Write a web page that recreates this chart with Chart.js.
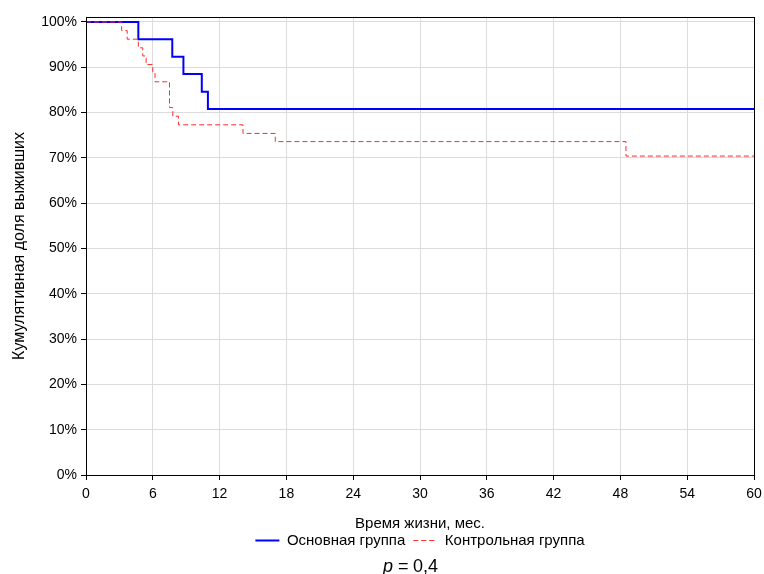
<!DOCTYPE html>
<html>
<head>
<meta charset="utf-8">
<script src="https://cdn.jsdelivr.net/npm/chart.js@4"></script>
<style>
  body { margin: 0; background: #fff; }
  canvas { display: block; }
</style>
</head>
<body>
<canvas id="kmChart" width="764" height="574"></canvas>
<script>
// Kaplan-Meier survival, months
var mainTimes = [0, 4.7, 7.75, 8.75, 10.4, 10.95, 60];
var mainSurv = [100, 96.2, 92.3, 88.5, 84.6, 80.8, 80.8];

var ctrlTimes = [0, 3.2, 3.7, 4.7, 5.1, 5.4, 6.0, 6.2, 7.5, 7.8, 8.3, 14.1, 17.0, 48.5, 60];
var ctrlSurv = [100, 98.1, 96.2, 94.3, 92.5, 90.6, 88.7, 86.8, 81.1, 79.2, 77.3, 75.4, 73.6, 70.4, 70.4];

var xTicks = [0, 6, 12, 18, 24, 30, 36, 42, 48, 54, 60];
var yTicks = [0, 10, 20, 30, 40, 50, 60, 70, 80, 90, 100];

var seriesNames = ['Основная группа', 'Контрольная группа'];
var pValue = '0,4';

function toPoints(xs, ys) {
  var pts = [];
  for (var i = 0; i < xs.length; i++) pts.push({ x: xs[i], y: ys[i] });
  return pts;
}

var fontFamily = '"Liberation Sans", Arial, sans-serif';

// frame round the plot area + p-value line under the legend
var framePlugin = {
  id: 'frame',
  afterDatasetsDraw: function(chart) {
    var a = chart.chartArea;
    var ctx = chart.ctx;
    ctx.save();
    ctx.strokeStyle = '#000';
    ctx.lineWidth = 1;
    ctx.strokeRect(Math.round(a.left) + 0.5, Math.round(a.top) + 0.5,
      Math.round(a.right - a.left), Math.round(a.bottom - a.top));
    ctx.restore();
  },
  afterDraw: function(chart) {
    var ctx = chart.ctx;
    var x0 = 383, y0 = 572;
    ctx.save();
    ctx.fillStyle = '#000';
    ctx.textBaseline = 'alphabetic';
    ctx.font = 'italic 18px ' + fontFamily;
    ctx.fillText('p', x0, y0);
    ctx.font = '18px ' + fontFamily;
    ctx.fillText('=', x0 + 15, y0);
    ctx.fillText(pValue, x0 + 30, y0);
    ctx.restore();
  }
};

var ctx = document.getElementById('kmChart').getContext('2d');
var kmChart = new Chart(ctx, {
  type: 'line',
  data: {
    datasets: [{
      label: seriesNames[0],
      data: toPoints(mainTimes, mainSurv),
      borderColor: '#0000ff',
      backgroundColor: '#0000ff',
      borderWidth: 2,
      stepped: true,
      pointRadius: 0,
      fill: false,
      order: 1
    }, {
      label: seriesNames[1],
      data: toPoints(ctrlTimes, ctrlSurv),
      borderColor: '#ff2a2a',
      backgroundColor: '#ff2a2a',
      borderWidth: 1,
      borderDash: [5, 3],
      stepped: true,
      pointRadius: 0,
      fill: false,
      order: 0
    }]
  },
  options: {
    responsive: false,
    animation: false,
    layout: { padding: { left: 10, right: 10, top: 17, bottom: 16 } },
    plugins: {
      legend: {
        display: true,
        position: 'bottom',
        fullSize: false,
        labels: {
          usePointStyle: true,
          pointStyleWidth: 24,
          boxHeight: 14,
          padding: 8,
          color: '#000',
          font: { family: fontFamily, size: 15 },
          generateLabels: function(chart) {
            return chart.data.datasets.map(function(ds, i) {
              return {
                text: ds.label,
                datasetIndex: i,
                pointStyle: 'line',
                fillStyle: ds.borderColor,
                strokeStyle: ds.borderColor,
                lineWidth: ds.borderWidth,
                lineDash: ds.borderDash || [],
                fontColor: '#000',
                hidden: !chart.isDatasetVisible(i)
              };
            });
          }
        }
      },
      tooltip: { enabled: false }
    },
    scales: {
      x: {
        type: 'linear',
        min: 0,
        max: 60,
        afterBuildTicks: function(axis) {
          axis.ticks = xTicks.map(function(v) { return { value: v }; });
        },
        afterFit: function(scale) {
          scale.height = 50;
          scale.paddingLeft = 0;
          scale.paddingRight = 0;
        },
        grid: { color: '#dcdcdc', tickColor: '#000', tickLength: 5, drawOnChartArea: true },
        border: { color: '#000', width: 1 },
        ticks: { color: '#000', padding: 6, maxRotation: 0, font: { family: fontFamily, size: 14 } },
        title: {
          display: true,
          text: 'Время жизни, мес.',
          color: '#000',
          padding: { top: 0, bottom: -8 },
          font: { family: fontFamily, size: 15 }
        }
      },
      y: {
        type: 'linear',
        min: 0,
        max: 101.1,
        afterBuildTicks: function(axis) {
          axis.ticks = yTicks.map(function(v) { return { value: v }; });
        },
        afterFit: function(scale) { scale.width = 76; },
        grid: { color: '#dcdcdc', tickColor: '#000', tickLength: 5 },
        border: { color: '#000', width: 1 },
        ticks: {
          color: '#000',
          padding: 4,
          font: { family: fontFamily, size: 14 },
          callback: function(v) { return v + '%'; }
        },
        title: {
          display: true,
          text: 'Кумулятивная доля выживших',
          color: '#000',
          padding: { top: 0, bottom: 0 },
          font: { family: fontFamily, size: 16 }
        }
      }
    }
  },
  plugins: [framePlugin]
});
</script>
</body>
</html>
